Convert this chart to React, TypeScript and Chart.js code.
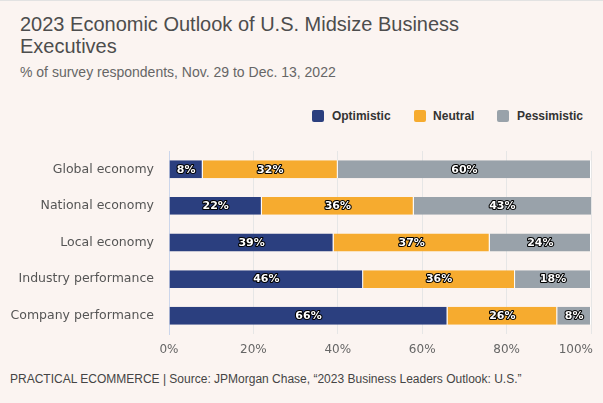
import React, { useEffect, useRef } from "react";
import { Chart, registerables } from "chart.js";

Chart.register(...registerables);

const categories = [
  "Global economy",
  "National economy",
  "Local economy",
  "Industry performance",
  "Company performance",
];
const seriesNames = ["Optimistic", "Neutral", "Pessimistic"];
const optimistic = [8, 22, 39, 46, 66];
const neutral = [32, 36, 37, 36, 26];
const pessimistic = [60, 43, 24, 18, 8];
const xTickValues = [0, 20, 40, 60, 80, 100];
const xTickLabels = ["0%", "20%", "40%", "60%", "80%", "100%"];
const seriesColors = ["#2b3f7f", "#f6ab2f", "#99a2aa"];

const titleText = ["2023 Economic Outlook of U.S. Midsize Business", "Executives"];
const subtitleText = "% of survey respondents, Nov. 29 to Dec. 13, 2022";
const footerText =
  "PRACTICAL ECOMMERCE | Source: JPMorgan Chase, \u201c2023 Business Leaders Outlook: U.S.\u201d";

const dataLabelPlugin = {
  id: "dataLabels",
  afterDatasetsDraw(chart: any) {
    const { ctx, chartArea } = chart;
    ctx.save();
    ctx.font = "bold 11px 'DejaVu Sans'";
    ctx.textAlign = "center";
    ctx.textBaseline = "middle";
    ctx.lineJoin = "round";
    chart.data.datasets.forEach((ds: any, di: number) => {
      const meta = chart.getDatasetMeta(di);
      meta.data.forEach((el: any, i: number) => {
        const v = ds.data[i];
        const x0 = Math.max(Math.min(el.x, el.base), chartArea.left);
        const x1 = Math.min(Math.max(el.x, el.base), chartArea.right);
        const cx = (x0 + x1) / 2;
        const text = v + "%";
        ctx.lineWidth = 2.2;
        ctx.strokeStyle = "#000";
        ctx.strokeText(text, cx, el.y + 0.5);
        ctx.fillStyle = "#fff";
        ctx.fillText(text, cx, el.y + 0.5);
      });
    });
    ctx.restore();
  },
};

const xLabelPlugin = {
  id: "xLabels",
  afterDraw(chart: any) {
    const scale = chart.scales.x;
    const { ctx, chartArea } = chart;
    ctx.save();
    ctx.font = "12px 'DejaVu Sans'";
    ctx.fillStyle = "#666666";
    ctx.textBaseline = "middle";
    xTickValues.forEach((v, i) => {
      const px = scale.getPixelForValue(v);
      const last = i === xTickValues.length - 1;
      ctx.textAlign = last ? "right" : "center";
      ctx.fillText(xTickLabels[i], last ? px + 2 : px, chartArea.bottom + 16);
    });
    ctx.restore();
  },
};

export default function App() {
  const canvasRef = useRef<HTMLCanvasElement | null>(null);

  useEffect(() => {
    const canvas = canvasRef.current;
    if (!canvas) return;
    const values = [optimistic, neutral, pessimistic];
    const chart = new Chart(canvas, {
      type: "bar",
      data: {
        labels: categories,
        datasets: seriesNames.map((name, i) => ({
          label: name,
          data: values[i],
          backgroundColor: seriesColors[i],
          borderColor: "#ffffff",
          borderWidth: { top: 0, bottom: 0, left: 0, right: 1 },
          borderSkipped: false,
          barPercentage: 0.49,
          categoryPercentage: 1,
        })),
      },
      options: {
        indexAxis: "y",
        animation: false,
        responsive: false,
        maintainAspectRatio: false,
        layout: { padding: { top: 11, right: 12, left: 0, bottom: 0 } },
        plugins: {
          legend: { display: false },
          tooltip: { enabled: false },
          title: { display: false },
        },
        scales: {
          x: {
            stacked: true,
            min: 0,
            max: 100,
            ticks: { display: false, stepSize: 20 },
            grid: {
              drawTicks: false,
              color: (c: any) =>
                c.tick && c.tick.value === 0 ? "rgba(0,0,0,0)" : "#e6e6e6",
              lineWidth: 1,
            },
            border: { display: false },
            afterFit: (s: any) => {
              s.height = 26;
              s.paddingLeft = 0;
              s.paddingRight = 0;
            },
          },
          y: {
            stacked: true,
            grid: { display: false, drawTicks: false },
            border: { display: true, color: "#ccd6eb", width: 1 },
            ticks: {
              color: "#555555",
              padding: 15,
              font: { family: "'DejaVu Sans'", size: 12.5 },
            },
            afterFit: (s: any) => {
              s.width = 169;
              s.paddingTop = 0;
              s.paddingBottom = 0;
            },
          },
        },
      },
      plugins: [dataLabelPlugin, xLabelPlugin],
    } as any);
    return () => chart.destroy();
  }, []);

  return (
    <div
      style={{
        position: "relative",
        width: 603,
        height: 403,
        background: "#fbf4f1",
        overflow: "hidden",
        fontFamily: "'Liberation Sans', Arial, sans-serif",
      }}
    >
      <style>{`body{margin:0}`}</style>
      <div style={{ position: "absolute", left: 0, top: 0, width: 603, height: 1, background: "#e2e2e2" }} />
      <div
        style={{
          position: "absolute",
          left: 20,
          top: 13,
          fontSize: 20,
          lineHeight: "22.3px",
          color: "#4d4d4d",
          whiteSpace: "nowrap",
        }}
      >
        {titleText[0]}
        <br />
        {titleText[1]}
      </div>
      <div
        style={{
          position: "absolute",
          left: 20,
          top: 64,
          fontSize: 14,
          lineHeight: "16px",
          color: "#666666",
          whiteSpace: "nowrap",
        }}
      >
        {subtitleText}
      </div>
      <div
        style={{
          position: "absolute",
          right: 20,
          top: 110,
          height: 12,
          display: "flex",
          alignItems: "center",
          gap: 23,
          fontSize: 12,
          fontWeight: "bold",
          color: "#333333",
          whiteSpace: "nowrap",
        }}
      >
        {seriesNames.map((n, i) => (
          <div key={n} style={{ display: "flex", alignItems: "center" }}>
            <span
              style={{
                display: "inline-block",
                width: 12,
                height: 12,
                borderRadius: 2,
                background: seriesColors[i],
                marginRight: 7.5,
              }}
            />
            <span style={{ lineHeight: "12px" }}>{n}</span>
          </div>
        ))}
      </div>
      <canvas
        ref={canvasRef}
        width={603}
        height={220}
        style={{ position: "absolute", left: 0, top: 140, width: 603, height: 220 }}
      />
      <div
        style={{
          position: "absolute",
          left: 10,
          top: 372,
          fontSize: 12,
          lineHeight: "14px",
          color: "#444444",
          whiteSpace: "nowrap",
        }}
      >
        {footerText}
      </div>
    </div>
  );
}
